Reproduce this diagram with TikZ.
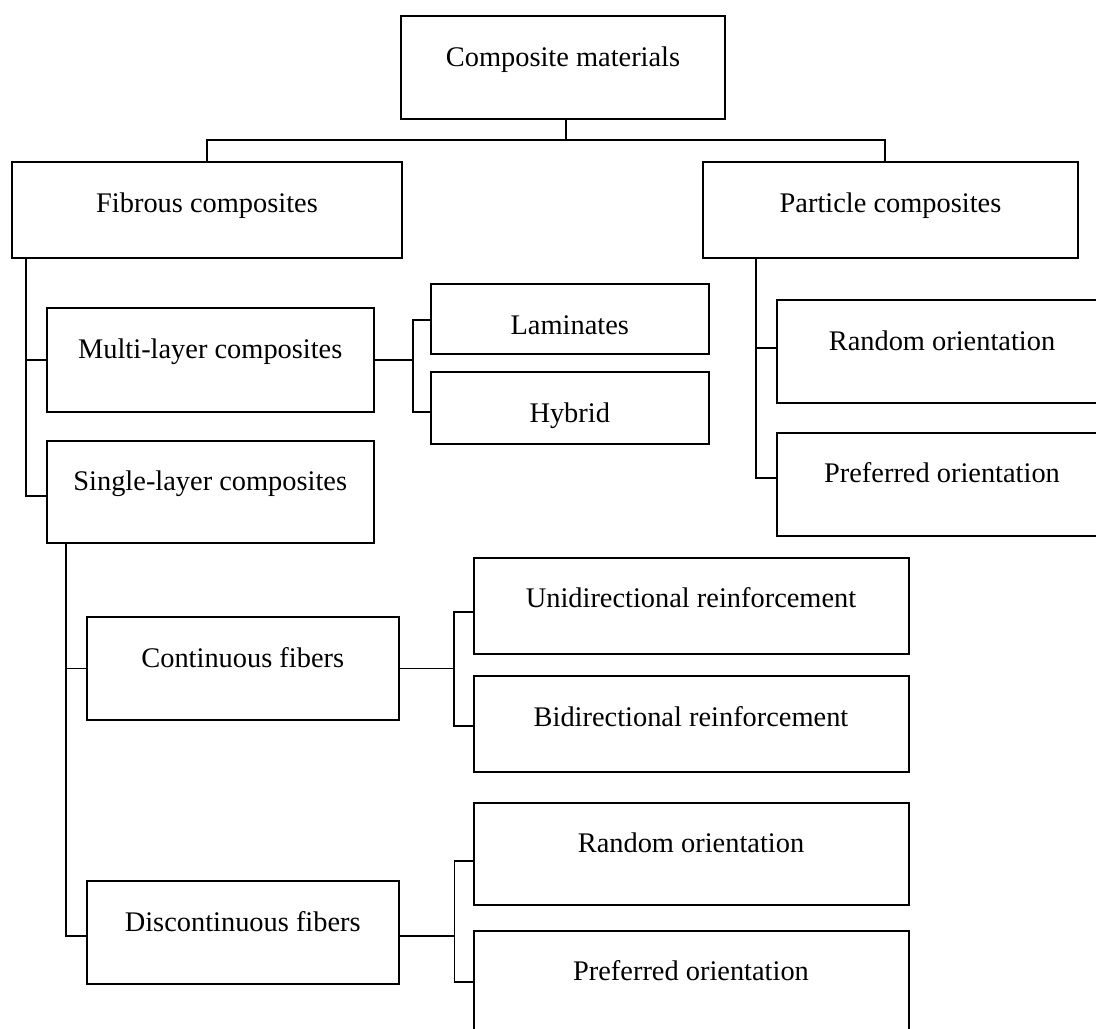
\documentclass[tikz,border=0pt]{standalone}
\usepackage{fontspec}
\setmainfont{Liberation Serif}
\usetikzlibrary{calc}
\newcommand\mkbox[6]{%
  \node[box, minimum width={(#4-#2)*0.5pt}, minimum height={(#5-#3)*0.5pt}] (#1) at ({(#2+#4)/2},{(#3+#5)/2}) {};
  \node[lbl] (#1-t) at ([yshift=-25.5pt]#1.north) {#6};}
\begin{document}
\begin{tikzpicture}[x=0.5pt,y=-0.5pt,
  box/.style={draw, line width=1pt, rectangle, inner sep=0pt},
  lbl/.style={anchor=base, inner sep=0pt, font=\fontsize{14.2pt}{17pt}\selectfont},
  link/.style={line width=0.95pt}]
\useasboundingbox (0,0) rectangle (1096,1028);

\mkbox{cm}{401}{16}{725}{119}{Composite materials}
\mkbox{fib}{12}{162}{402}{258}{Fibrous composites}
\mkbox{par}{703}{162}{1078}{258}{Particle composites}
\mkbox{multi}{46.5}{308}{374}{411.5}{Multi-layer composites}
\mkbox{single}{46.5}{440.5}{374}{543}{Single-layer composites}
\mkbox{lam}{430.5}{284}{709}{354}{Laminates}
\mkbox{hyb}{430.5}{372.3}{709}{444}{Hybrid}
\mkbox{pr}{777}{300}{1107}{403}{Random orientation}
\mkbox{pp}{777}{432.7}{1107}{536}{Preferred orientation}
\mkbox{cont}{86.5}{617}{399}{720}{Continuous fibers}
\mkbox{uni}{473.5}{557.5}{908.5}{654}{Unidirectional reinforcement}
\mkbox{bi}{473.5}{676.3}{908.5}{772.3}{Bidirectional reinforcement}
\mkbox{disc}{86.5}{881}{399}{984}{Discontinuous fibers}
\mkbox{dr}{473.5}{802.7}{908.5}{905}{Random orientation}
\mkbox{dp}{473.5}{930.7}{908.5}{1033}{Preferred orientation}

% top level
\coordinate (bus) at (566,140);
\draw[link] (bus |- cm.south) -- (bus);
\draw[link] (fib.north) |- (bus) -| ($(par.north)+(-5.5,0)$);

% fibrous
\coordinate (fs) at ($(fib.south west)+(15,0)$);
\draw[link] (fs) |- (multi.west);
\draw[link] (fs) |- ([yshift=-2.1pt]single.west);

% multi-layer
\coordinate (mj) at ($(multi.east)+(38,0)$);
\draw[link] (multi.east) -- (mj);
\draw[link] ([yshift=-0.65pt]lam.west) -| (mj) |- ([yshift=-2.1pt]hyb.west);

% particle
\coordinate (ps) at ($(par.south west)+(54.3,0)$);
\draw[link] (ps) |- ([yshift=1.6pt]pr.west);
\draw[link] (ps) |- ([yshift=3.3pt]pp.west);

% single-layer
\coordinate (ss) at ($(single.south west)+(20.5,0)$);
\draw[link] (ss) |- (cont.west);
\draw[link] (ss) |- ([yshift=-1.9pt]disc.west);

% continuous
\coordinate (cj) at ($(cont.east)+(54,0)$);
\draw[link] (cont.east) -- (cj);
\draw[link] ([yshift=-3.1pt]uni.west) -| (cj) |- ([yshift=-0.85pt]bi.west);

% discontinuous
\coordinate (dj) at ($([yshift=-1.9pt]disc.east)+(54.5,0)$);
\draw[link] ([yshift=-1.9pt]disc.east) -- (dj);
\draw[link] ([yshift=-3.6pt]dr.west) -| (dj) |- (dp.west);
\end{tikzpicture}
\end{document}
